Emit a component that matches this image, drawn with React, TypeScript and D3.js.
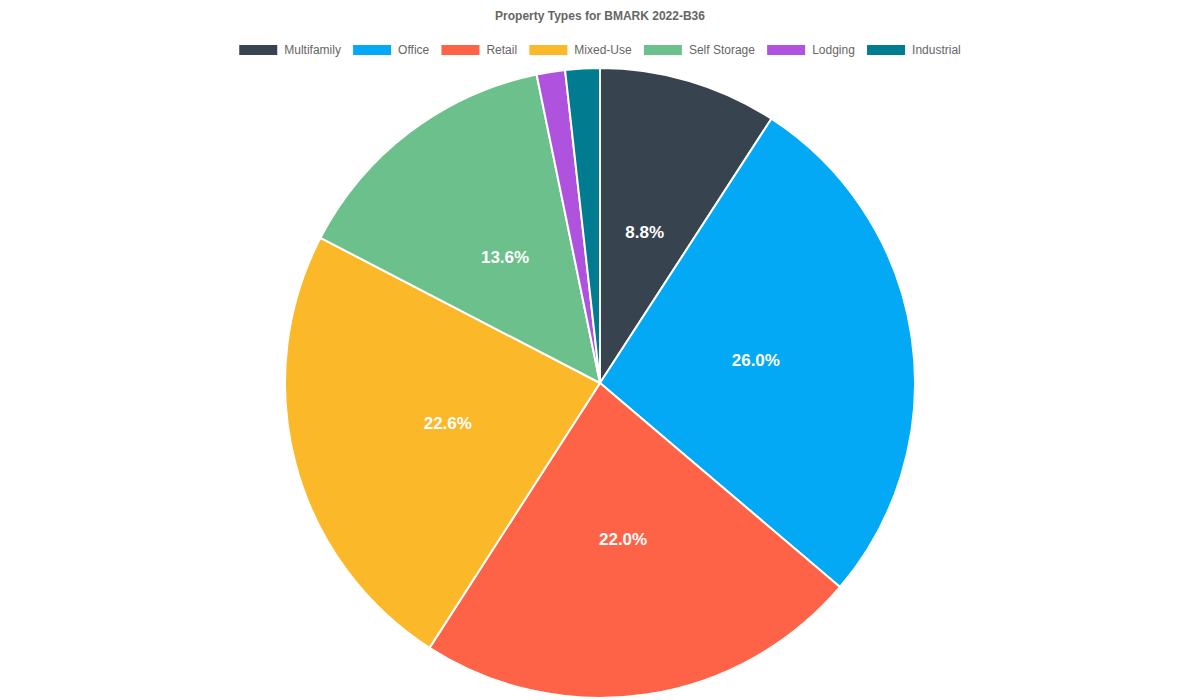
import React from "react";
import * as d3 from "d3";

const categories = ["Multifamily", "Office", "Retail", "Mixed-Use", "Self Storage", "Lodging", "Industrial"];
const values = [8.8, 26.0, 22.0, 22.6, 13.6, 1.4, 1.7];
const colors = ["#37444f", "#03a9f4", "#ff6347", "#fbb829", "#6cc08b", "#af52de", "#017b8f"];
const title = "Property Types for BMARK 2022-B36";

const App: React.FC = () => {
  const svgRef = React.useRef<SVGSVGElement | null>(null);

  React.useEffect(() => {
    if (!svgRef.current) return;
    const svg = d3.select(svgRef.current);
    svg.selectAll("*").remove();

    const width = 1200;
    const height = 700;
    const cx = 600;
    const cy = 383;
    const radius = 315;
    const font = "Liberation Sans, Arial, Helvetica, sans-serif";

    svg.attr("width", width).attr("height", height).style("font-family", font);

    svg
      .append("text")
      .attr("x", width / 2)
      .attr("y", 20)
      .attr("text-anchor", "middle")
      .attr("font-size", 12)
      .attr("font-weight", "bold")
      .attr("fill", "#666")
      .text(title);

    // legend, laid out from measured text widths and then centred
    const gap = 12.2;
    const legend = svg.append("g");
    let lx = 0;
    categories.forEach((c, i) => {
      const item = legend.append("g").attr("transform", `translate(${lx},0)`);
      item.append("rect").attr("x", 0).attr("y", 45).attr("width", 38).attr("height", 10).attr("fill", colors[i]);
      const t = item
        .append("text")
        .attr("x", 45)
        .attr("y", 54)
        .attr("font-size", 12)
        .attr("fill", "#666")
        .text(c);
      const w = (t.node() as SVGTextElement).getComputedTextLength();
      lx += 45 + w + gap;
    });
    const totalW = lx - gap;
    legend.attr("transform", `translate(${(width - totalW) / 2},0)`);

    const pie = d3.pie<number>().sort(null).value((d) => d);
    const arcs = pie(values);
    const arc = d3.arc<d3.PieArcDatum<number>>().innerRadius(0).outerRadius(radius);
    const labelArc = d3.arc<d3.PieArcDatum<number>>().innerRadius(radius / 2).outerRadius(radius / 2);

    const g = svg.append("g").attr("transform", `translate(${cx},${cy})`);
    g.selectAll("path")
      .data(arcs)
      .join("path")
      .attr("d", arc)
      .attr("fill", (d, i) => colors[i])
      .attr("stroke", "#fff")
      .attr("stroke-width", 2)
      .attr("stroke-linejoin", "round");

    g.selectAll("text")
      .data(arcs.filter((d) => d.value >= 5))
      .join("text")
      .attr("transform", (d) => `translate(${labelArc.centroid(d)})`)
      .attr("text-anchor", "middle")
      .attr("dy", "0.35em")
      .attr("font-size", 17)
      .attr("font-weight", "bold")
      .attr("fill", "#fff")
      .text((d) => `${d.value.toFixed(1)}%`);
  }, []);

  return <svg ref={svgRef} style={{ display: "block", position: "absolute", left: 0, top: 0 }}></svg>;
};

export default App;
